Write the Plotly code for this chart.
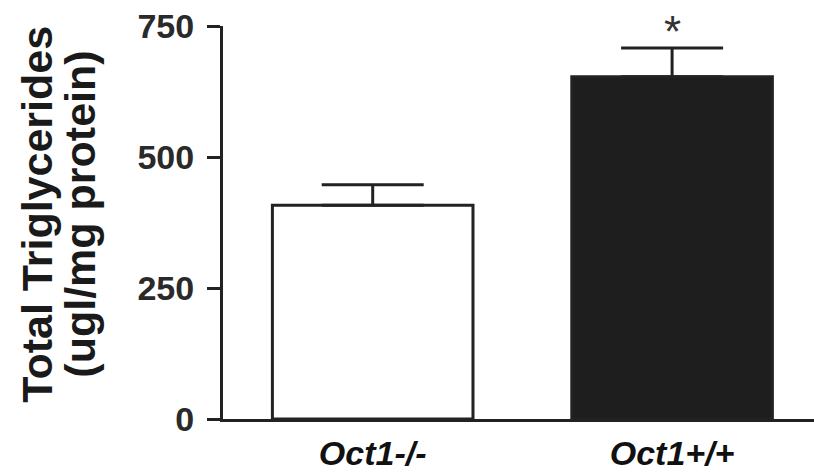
import plotly.graph_objects as go

# Group means and SEM for total triglycerides
groups = ["Oct1-/-", "Oct1+/+"]
means = [408, 653]
sem = [39, 55]
fills = ["#ffffff", "#1e1e1e"]
sig_marks = ["", "*"]

ytick_vals = [0, 250, 500, 750]
ytick_text = ["0", "250", "500", "750"]

ink = "#222222"
font_main = "Liberation Sans, Arial, sans-serif"

fig = go.Figure()
fig.add_trace(go.Bar(
    x=groups,
    y=means,
    width=0.67,
    marker=dict(color=fills, line=dict(color=ink, width=3)),
    error_y=dict(type="data", array=sem, arrayminus=[0] * len(sem), symmetric=False,
                 color=ink, thickness=3, width=51),
    showlegend=False,
))

# significance marks above the error bars
for g, m, s, mark in zip(groups, means, sem, sig_marks):
    if mark:
        fig.add_annotation(x=g, y=m + s, text=mark, showarrow=False,
                           yanchor="bottom", yshift=-10,
                           font=dict(family=font_main, size=44, color="#333333"))

# two-line y-axis title
for text, shift in [("Total Triglycerides", -186), ("(ugl/mg protein)", -143)]:
    fig.add_annotation(xref="paper", yref="paper", x=0, y=0.52, xshift=shift,
                       text=text, textangle=-90, showarrow=False,
                       xanchor="center", yanchor="middle",
                       font=dict(family=font_main, size=43, color="#1a1a1a", weight="bold"))

fig.update_layout(
    width=814, height=472,
    margin=dict(l=223, r=0, t=26, b=53, autoexpand=False),
    paper_bgcolor="white", plot_bgcolor="white",
    xaxis=dict(
        type="category", range=[-0.5, 1.474], automargin=False,
        showline=True, linecolor=ink, linewidth=3,
        ticks="", showgrid=False, zeroline=False,
        tickfont=dict(family=font_main, size=34, color="#111111", weight="bold", style="italic"),
        ticklabelstandoff=2,
    ),
    yaxis=dict(
        range=[0, 750], tickvals=ytick_vals, ticktext=ytick_text, automargin=False,
        showline=True, linecolor=ink, linewidth=3,
        ticks="outside", ticklen=13, tickwidth=3, tickcolor=ink,
        showgrid=False, zeroline=False,
        tickfont=dict(family=font_main, size=34, color="#2a2a2a", weight="bold"),
        ticklabelstandoff=6,
    ),
)

fig.write_html("out.html")
